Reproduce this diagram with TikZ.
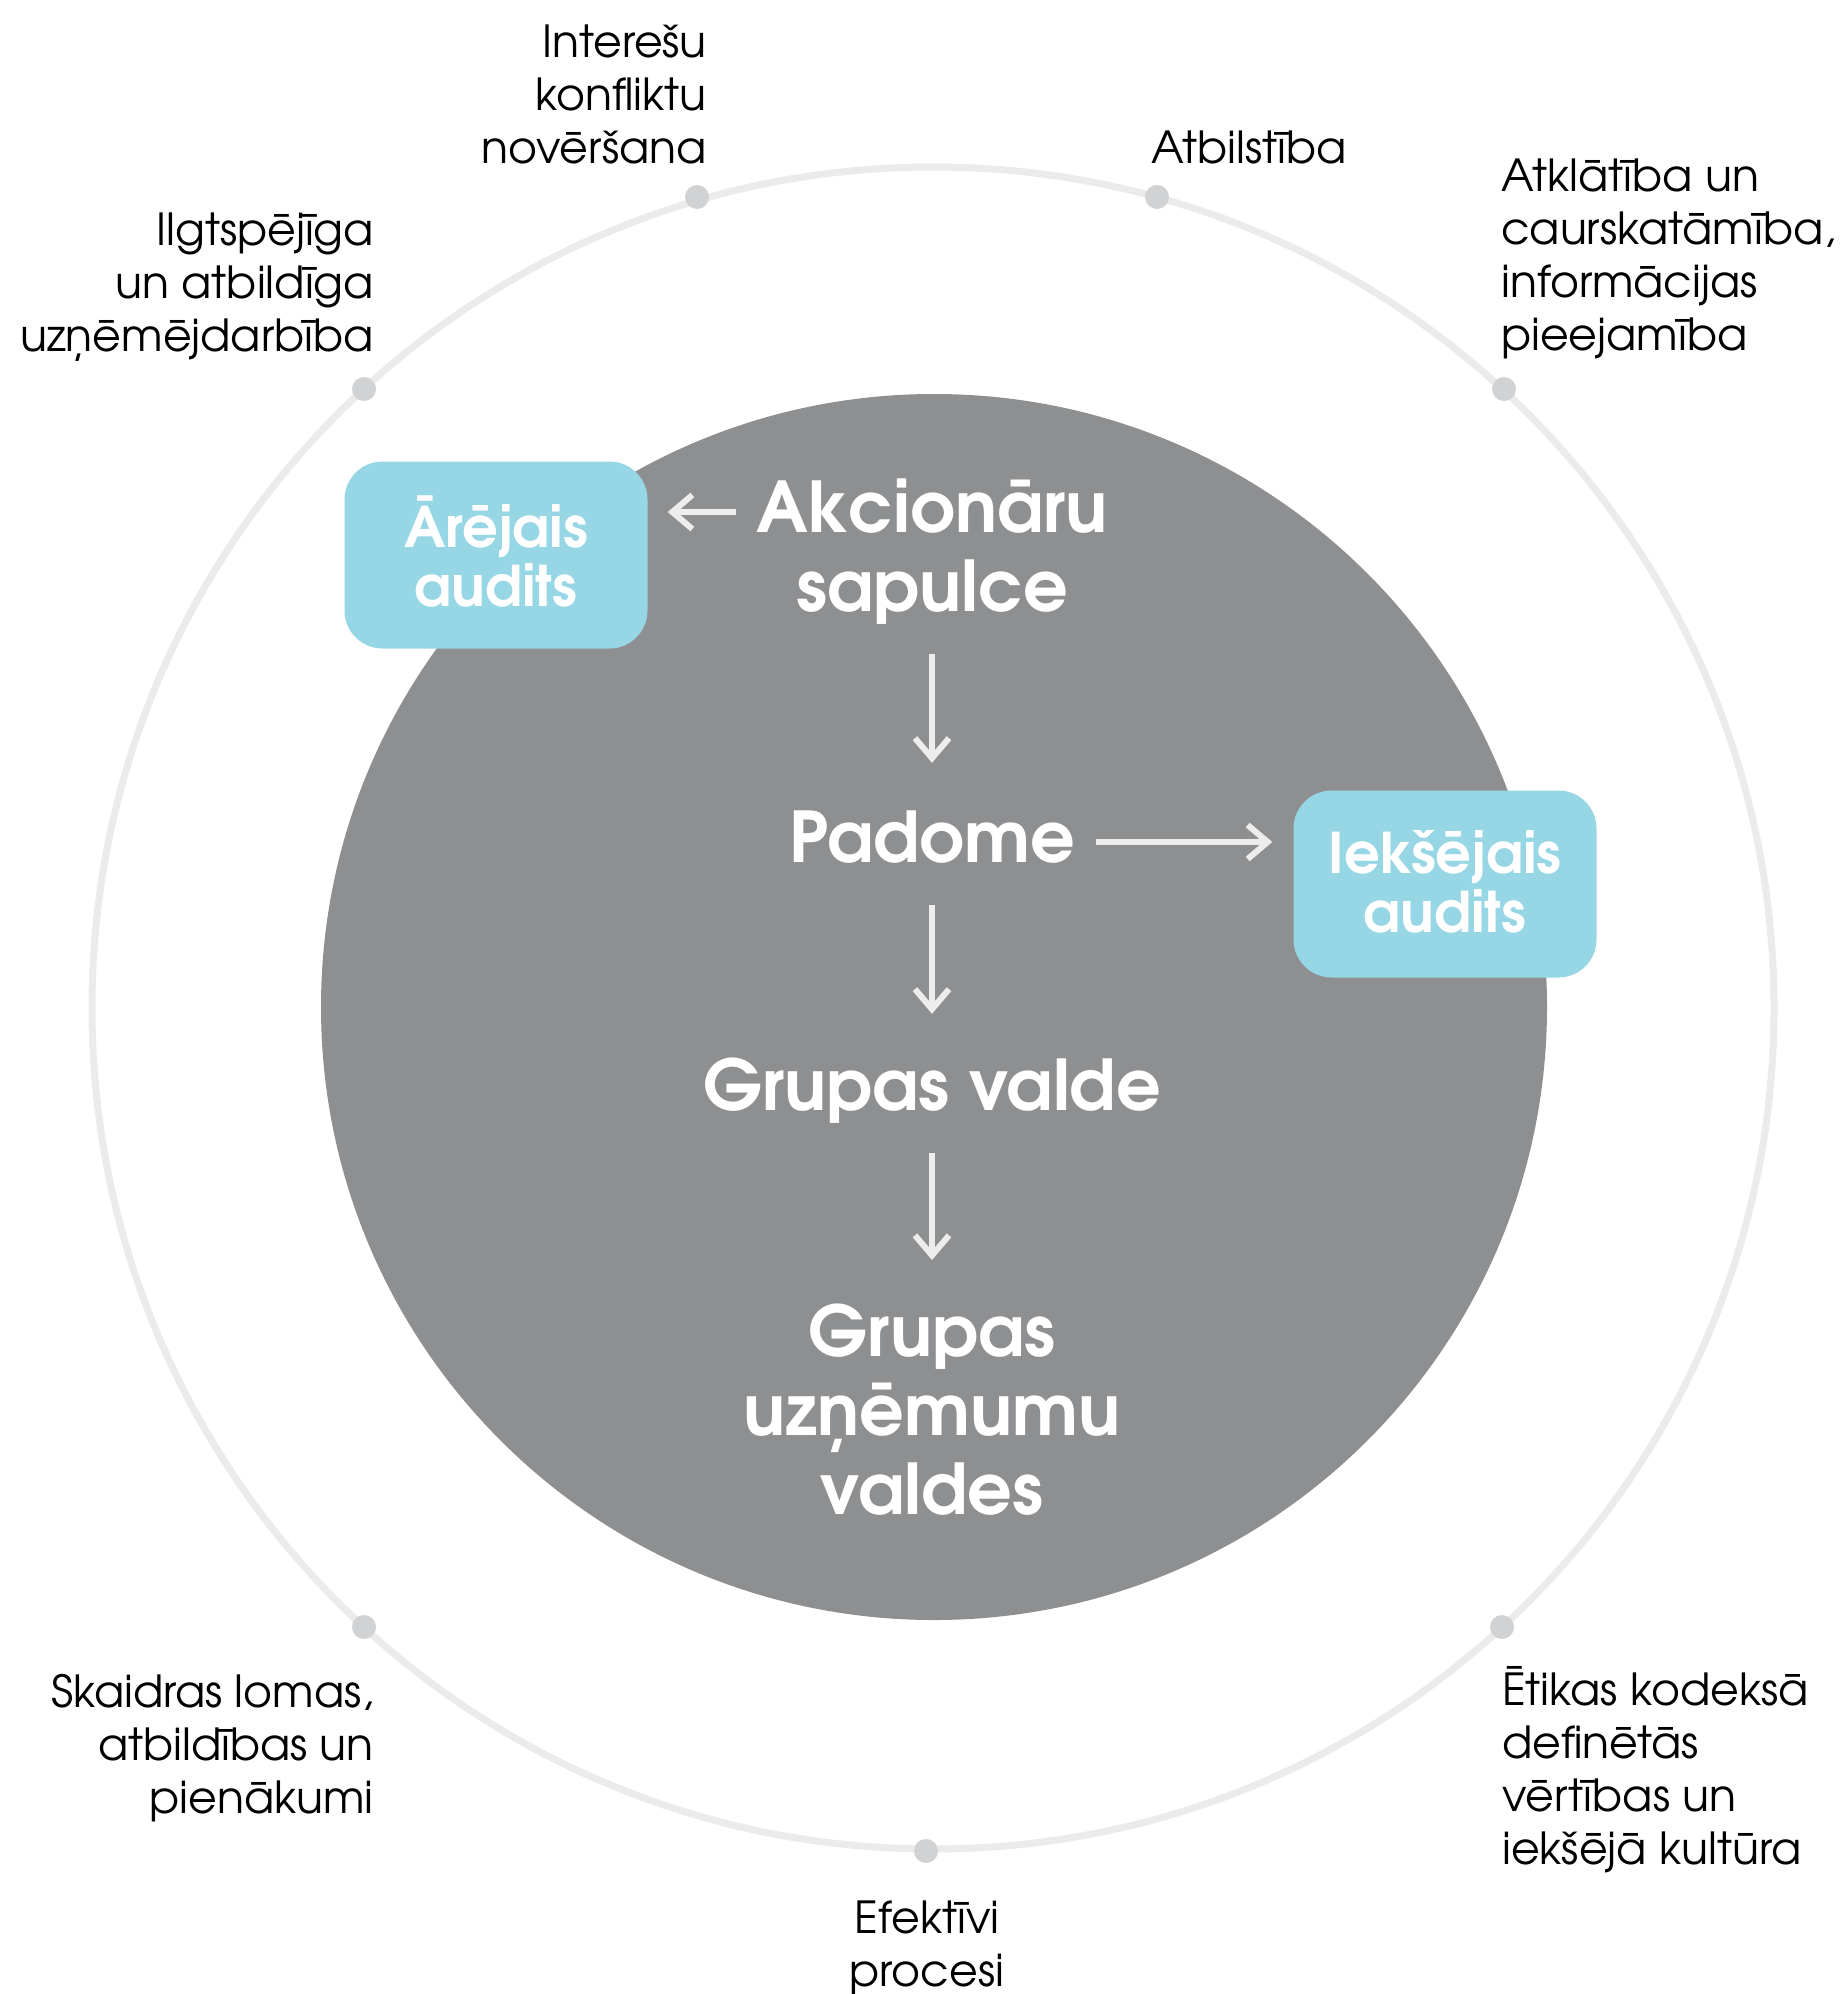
\documentclass[tikz,border=0pt]{standalone}
\usepackage{fontspec}
\setmainfont{texgyreadventor-regular.otf}[BoldFont=texgyreadventor-bold.otf]
\usetikzlibrary{arrows.meta,calc}
\definecolor{ringc}{HTML}{EBEBEB}
\definecolor{dotc}{HTML}{D1D2D4}
\definecolor{corec}{HTML}{8E8F91}
\definecolor{boxc}{HTML}{97D6E5}
\definecolor{arrc}{HTML}{EDEDED}
\newcommand\topstr[1]{\rule{0pt}{#1}}
\newcommand\botstr[1]{\rule[-#1]{0pt}{#1}}
\begin{document}
\begin{tikzpicture}[x=1pt,y=-1pt,
  lab/.style={inner sep=0pt, text=black, font={\fontsize{44.2}{53}\selectfont}},
  core/.style={inner sep=0pt, text=white, align=center, font={\bfseries\fontsize{70}{79}\selectfont}},
  auditbox/.style={rectangle, rounded corners=38pt, fill=boxc, minimum width=303pt, minimum height=187pt,
    inner sep=0pt, text=white, align=center, font={\bfseries\fontsize{56}{59}\selectfont}},
  dotn/.style={circle, fill=dotc, minimum size=24pt, inner sep=0pt},
  arr/.style={draw=arrc, line width=6pt, -{Straight Barb[length=20pt,width=34pt]}}]
\useasboundingbox (0,0) rectangle (1839,1994);
\fill[white] (0,0) rectangle (1839,1994);
% rings
\draw[ringc, line width=7pt] (933,1008) circle[radius=841];
\fill[corec] (934,1007) circle[radius=613];
% dots
\node[dotn] (d1) at (697,197) {};
\node[dotn] (d2) at (1157,197) {};
\node[dotn] (d3) at (1504,389) {};
\node[dotn] (d4) at (1502,1627) {};
\node[dotn] (d5) at (926,1851) {};
\node[dotn] (d6) at (364,1627) {};
\node[dotn] (d7) at (364,389) {};
% outer labels
\node[lab, anchor=north east, align=right] (l1) at (707,17) {\topstr{40pt}Interešu\\konfliktu\\novēršana};
\node[lab, anchor=base west] (l2) at (1151,163) {Atbilstība};
\node[lab, anchor=north west, align=left] (l3) at (1501,151) {\topstr{40pt}Atklātība un\\caurskatāmība,\\informācijas\\pieejamība};
\node[lab, anchor=north east, align=right] (l4) at (374,205) {\topstr{40pt}Ilgtspējīga\\un atbildīga\\uzņēmējdarbība};
\node[lab, anchor=north east, align=right] (l5) at (374,1667) {\topstr{40pt}Skaidras lomas,\\atbildības un\\pienākumi};
\node[lab, anchor=north west, align=left] (l6) at (1502,1665) {\topstr{40pt}Ētikas kodeksā\\definētās\\vērtības un\\iekšējā kultūra};
\node[lab, anchor=north, align=center] (l7) at (927,1893) {\topstr{40pt}Efektīvi\\procesi};
% audit boxes
\node[auditbox] (ext) at (496,555) {\topstr{45pt}Ārējais\\audits\botstr{8pt}};
\node[auditbox] (int) at (1445,884) {\topstr{45pt}Iekšējais\\audits\botstr{8pt}};
% core labels
\node[core, anchor=north] (aks) at (932,472) {\topstr{60pt}Akcionāru\\sapulce\botstr{25pt}};
\node[core, anchor=base, text height=40pt, text depth=0pt] (pad) at (932,862) {Padome};
\node[core, anchor=base, text height=40pt, text depth=0pt] (gv) at (932,1110) {Grupas valde};
\node[core, anchor=north] (guv) at (932,1296) {\topstr{60pt}Grupas\\uzņēmumu\\valdes};
% connectors
\coordinate (akl) at ([xshift=-20pt,yshift=-40pt]aks.north west);
\draw[arr, shorten >=20pt] (akl) -- (ext.east |- akl);
\draw[arr, shorten <=18pt, shorten >=59pt] (aks.south) -- (pad.north);
\draw[arr, shorten <=21pt, shorten >=21pt] (pad.east) -- (int.west |- pad.east);
\draw[arr, shorten <=43pt, shorten >=56pt] (pad.south) -- (gv.north);
\draw[arr, shorten <=43pt, shorten >=36pt] (gv.south) -- (guv.north);
\end{tikzpicture}
\end{document}
